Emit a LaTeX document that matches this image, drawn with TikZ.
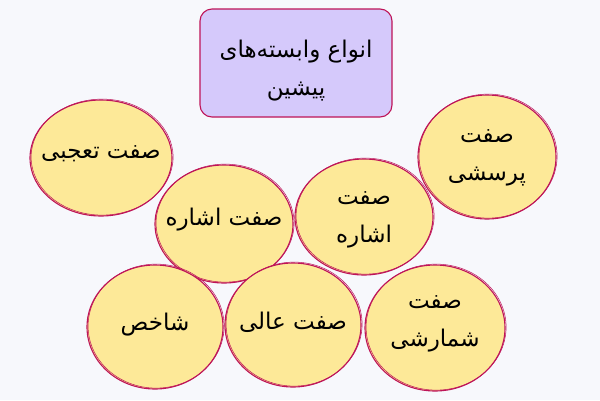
\documentclass[tikz,border=0pt]{standalone}
\usepackage{fontspec}
\usetikzlibrary{shapes.geometric}
\TeXXeTstate=1
\newfontfamily\arabicfont[Script=Arabic]{DejaVu Sans}
\definecolor{bgcol}{RGB}{247,248,252}
\definecolor{rimcol}{RGB}{190,20,88}
\definecolor{bubblecol}{RGB}{253,233,152}
\definecolor{boxcol}{RGB}{213,201,251}
\begin{document}
\begin{tikzpicture}[x=1pt,y=-1pt,
  bubble/.style={draw=rimcol,fill=bubblecol,ellipse,line width=1.1pt,inner sep=0pt,
    minimum width=138pt,minimum height=118pt,
    postaction={draw=rimcol,line width=0.5pt,transform canvas={shift={(1.1pt,0.9pt)}}}},
  bubbletext/.style={font=\arabicfont\fontsize{23}{38}\selectfont,align=center,inner sep=0pt},
]
%%
\fill [bgcol] (0,0) rectangle (600,400);
\useasboundingbox (0,0) rectangle (600,400);
\node (title) at (296,63) [draw=rimcol,fill=boxcol,rounded corners=12pt,line width=1.1pt,
  minimum width=192pt,minimum height=108pt] {};
\node (titletext) at (296,71) [bubbletext] {\beginR انواع وابسته‌های\endR\\\beginR پیشین\endR};
%
\node (tajobi) at (101,158) [bubble,minimum width=142pt,minimum height=116pt] {};
\node (eshareA) at (224,224) [bubble] {};
\node (eshareB) at (364,217) [bubble,minimum height=116pt] {};
\node (porseshi) at (487,157) [bubble,minimum height=124pt] {};
\node (shakhes) at (155,327) [bubble,minimum width=136pt,minimum height=124pt] {};
\node (aali) at (293,325) [bubble,minimum width=136pt,minimum height=124pt] {};
\node (shomareshi) at (435,328) [bubble,minimum width=140pt,minimum height=126pt] {};
%
\node at (tajobi) [bubbletext,yshift=4pt] {\beginR صفت تعجبی\endR};
\node at (eshareA) [bubbletext,yshift=4pt] {\beginR صفت اشاره\endR};
\node at (eshareB) [bubbletext,yshift=-3pt] {\beginR صفت\endR\\\beginR اشاره\endR};
\node at (porseshi) [bubbletext,yshift=-1pt] {\beginR صفت\endR\\\beginR پرسشی\endR};
\node at (shakhes) [bubbletext,yshift=2pt] {\beginR شاخص\endR};
\node at (aali) [bubbletext,yshift=3pt] {\beginR صفت عالی\endR};
\node at (shomareshi) [bubbletext,yshift=4pt] {\beginR صفت\endR\\\beginR شمارشی\endR};
%
\end{tikzpicture}
\end{document}
